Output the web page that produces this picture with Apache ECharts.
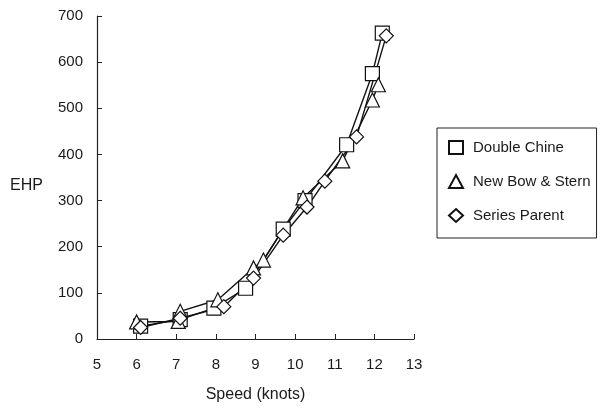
<!DOCTYPE html>
<html>
<head>
<meta charset="utf-8">
<script src="https://cdn.jsdelivr.net/npm/echarts@6/dist/echarts.min.js"></script>
<style>
  html, body { margin: 0; padding: 0; background: #fff; }
  #chart { width: 600px; height: 411px; }
</style>
</head>
<body>
<div id="chart"></div>
<script>
// values
const seriesNames = ["Double Chine", "New Bow & Stern", "Series Parent"]

const dcSpeed = [6.1, 7.1, 7.95, 8.75, 9.7, 10.25, 11.3, 11.95, 12.2]
const dcEhp = [28, 42, 67, 110, 238, 300, 421, 575, 663]

const nbSpeed = [6.0, 7.05, 7.1, 8.05, 8.95, 9.2, 10.2, 11.2, 11.95, 12.1]
const nbEhp = [37, 38, 60, 85, 154, 171, 306, 386, 518, 551]

const spSpeed = [6.1, 7.1, 8.2, 8.95, 9.7, 10.3, 10.75, 11.55, 12.3]
const spEhp = [25, 45, 70, 132, 225, 286, 342, 438, 657]

const xTicks = [5, 6, 7, 8, 9, 10, 11, 12, 13]
const yTicks = [0, 100, 200, 300, 400, 500, 600, 700]

const chart = echarts.init(document.getElementById("chart"))

const pairs = (xs, ys) => xs.map((x, i) => [x, ys[i]])
const txt = { color: "#1a1a1a", fontFamily: "Liberation Sans, Arial, sans-serif", fontSize: 15 }

function mkSeries(name, data, symbol, size) {
  return {
    name,
    type: "line",
    data,
    symbol,
    symbolSize: size,
    showAllSymbol: true,
    lineStyle: { color: "#111", width: 1.4 },
    itemStyle: { color: "#fff", borderColor: "#111", borderWidth: 1.2 },
    emphasis: { disabled: true },
    animation: false
  }
}

chart.setOption({
  backgroundColor: "#fff",
  animation: false,
  grid: { left: 97, right: 186, top: 16, bottom: 72, outerBoundsMode: "none", containLabel: false },
  legend: {
    orient: "vertical",
    left: 437,
    top: 128,
    padding: [12, 6, 15, 11],
    itemGap: 19,
    itemWidth: 14,
    itemHeight: 13,
    borderColor: "#222",
    borderWidth: 1,
    textStyle: { ...txt, padding: [0, 0, 0, 5] },
    data: [
      { name: seriesNames[0], icon: "rect" },
      { name: seriesNames[1], icon: "triangle" },
      { name: seriesNames[2], icon: "diamond" }
    ]
  },
  xAxis: {
    type: "value",
    min: xTicks[0],
    max: xTicks[xTicks.length - 1],
    interval: 1,
    name: "Speed (knots)",
    nameLocation: "middle",
    nameGap: 48,
    nameTextStyle: { ...txt, fontSize: 16 },
    axisLine: { lineStyle: { color: "#222", width: 1.2 } },
    axisTick: { inside: true, length: 5, lineStyle: { color: "#222" } },
    axisLabel: { ...txt, margin: 18 },
    splitLine: { show: false }
  },
  yAxis: {
    type: "value",
    min: yTicks[0],
    max: yTicks[yTicks.length - 1],
    interval: 100,
    name: "EHP",
    nameLocation: "middle",
    nameRotate: 0,
    nameGap: 54,
    nameTextStyle: { ...txt, fontSize: 16, verticalAlign: "top" },
    axisLine: { show: true, lineStyle: { color: "#222", width: 1.2 } },
    axisTick: { show: true, inside: true, length: 5, lineStyle: { color: "#222" } },
    axisLabel: { ...txt, margin: 14 },
    splitLine: { show: false }
  },
  series: [
    mkSeries(seriesNames[0], pairs(dcSpeed, dcEhp), "rect", 14),
    mkSeries(seriesNames[1], pairs(nbSpeed, nbEhp), "triangle", 14),
    mkSeries(seriesNames[2], pairs(spSpeed, spEhp), "diamond", 14)
  ]
})
</script>
</body>
</html>
